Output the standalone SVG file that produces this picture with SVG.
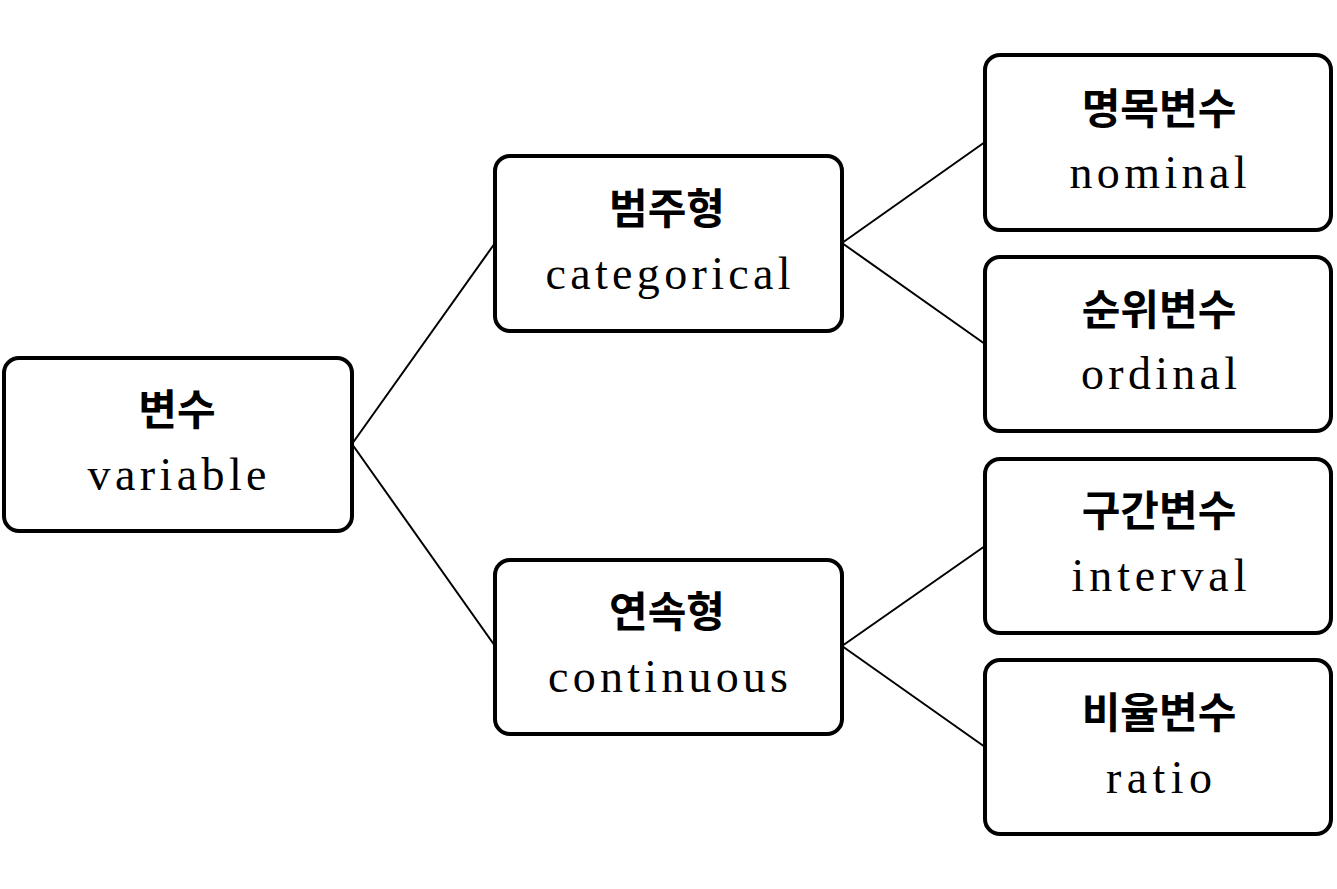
<svg xmlns="http://www.w3.org/2000/svg" width="1337" height="889" viewBox="0 0 1337 889">
<style>
.box{fill:#fff;stroke:#000;stroke-width:4}
.ko{font-family:"Noto Sans CJK KR","Noto Sans",sans-serif;font-weight:700;font-size:42px;text-anchor:middle;fill:#000}
.en{font-family:"Liberation Serif",serif;font-size:46px;text-anchor:middle;fill:#000}
.edge{stroke:#000;stroke-width:2;fill:none}
</style>
<rect width="1337" height="889" fill="#fff"/>
<g id="connectors">
<line class="edge" x1="352" y1="444" x2="495" y2="243"/>
<line class="edge" x1="352" y1="444" x2="495" y2="646"/>
<line class="edge" x1="842" y1="243" x2="985" y2="142"/>
<line class="edge" x1="842" y1="243" x2="985" y2="344"/>
<line class="edge" x1="842" y1="646" x2="985" y2="546"/>
<line class="edge" x1="842" y1="646" x2="985" y2="747"/>
</g>
<g id="variable">
<rect class="box" x="4" y="358" width="348" height="173" rx="15"/>
<text class="ko" x="177" y="425">변수</text>
<text class="en" x="177" y="490" textLength="179" lengthAdjust="spacing">variable</text>
</g>
<g id="categorical">
<rect class="box" x="495" y="156" width="347" height="175" rx="15"/>
<text class="ko" x="667" y="224">범주형</text>
<text class="en" x="668" y="289" textLength="245" lengthAdjust="spacing">categorical</text>
</g>
<g id="continuous">
<rect class="box" x="495" y="560" width="347" height="174" rx="15"/>
<text class="ko" x="667" y="627">연속형</text>
<text class="en" x="668" y="692" textLength="240" lengthAdjust="spacing">continuous</text>
</g>
<g id="nominal">
<rect class="box" x="985" y="55" width="346" height="175" rx="15"/>
<text class="ko" x="1159" y="124">명목변수</text>
<text class="en" x="1158" y="188" textLength="177" lengthAdjust="spacing">nominal</text>
</g>
<g id="ordinal">
<rect class="box" x="985" y="257" width="346" height="174" rx="15"/>
<text class="ko" x="1159" y="325">순위변수</text>
<text class="en" x="1159" y="389" textLength="156" lengthAdjust="spacing">ordinal</text>
</g>
<g id="interval">
<rect class="box" x="985" y="459" width="346" height="174" rx="15"/>
<text class="ko" x="1159" y="526">구간변수</text>
<text class="en" x="1159" y="591" textLength="175" lengthAdjust="spacing">interval</text>
</g>
<g id="ratio">
<rect class="box" x="985" y="660" width="346" height="174" rx="15"/>
<text class="ko" x="1159" y="728">비율변수</text>
<text class="en" x="1159" y="793" textLength="106" lengthAdjust="spacing">ratio</text>
</g>
</svg>
